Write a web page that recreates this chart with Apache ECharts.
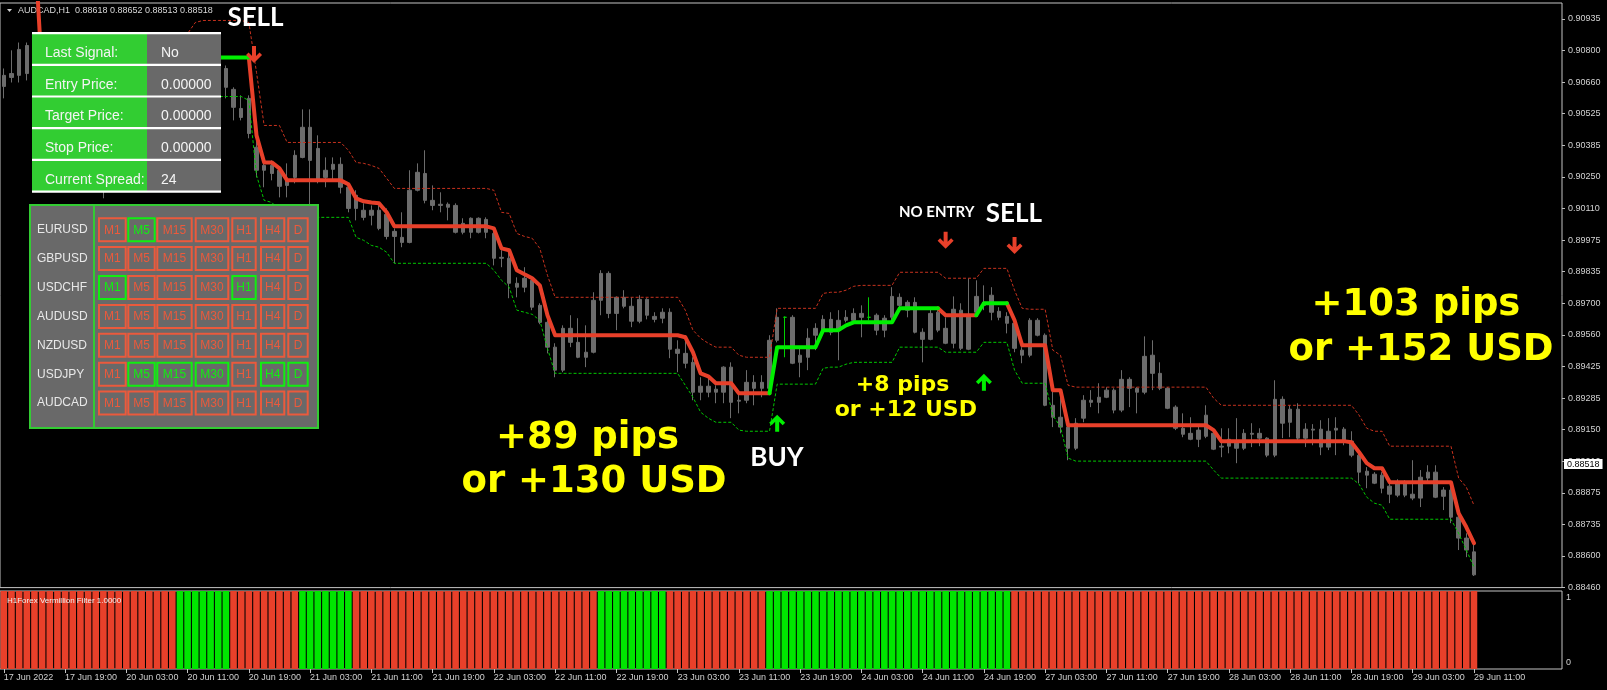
<!DOCTYPE html>
<html>
<head>
<meta charset="utf-8">
<title>AUDCAD,H1</title>
<script src="https://cdn.jsdelivr.net/npm/echarts@6.0.0/dist/echarts.min.js"></script>
<style>
  html, body { margin: 0; padding: 0; background: #000; }
  #chart { width: 1607px; height: 690px; }
</style>
</head>
<body>
<div id="chart"></div>
<script>
// ---- price data, H1 bars from 17 Jun 2022 11:00 (one value per bar) ----
var barOpen = [
  0.90692, 0.90683, 0.90692, 0.90822, 0.90700, 0.90605, 0.90540, 0.90583, 0.90474, 0.90409,
  0.90444, 0.90344, 0.90300, 0.90244, 0.90279, 0.90331, 0.90313, 0.90387, 0.90366, 0.90431,
  0.90409, 0.90496, 0.90540, 0.90605, 0.90692, 0.90670, 0.90722, 0.90705, 0.90748, 0.90722,
  0.90631, 0.90509, 0.90592, 0.90379, 0.90279, 0.90300, 0.90279, 0.90213, 0.90248, 0.90335,
  0.90466, 0.90374, 0.90248, 0.90283, 0.90305, 0.90205, 0.90113, 0.90105, 0.90083, 0.90105,
  0.90087, 0.89991, 0.89987, 0.89965, 0.90192, 0.90265, 0.90148, 0.90126, 0.90131, 0.90126,
  0.90009, 0.90009, 0.90070, 0.90009, 0.90004, 0.89896, 0.89896, 0.89787, 0.89770, 0.89800,
  0.89691, 0.89617, 0.89509, 0.89409, 0.89591, 0.89530, 0.89465, 0.89487, 0.89713, 0.89830,
  0.89656, 0.89726, 0.89687, 0.89622, 0.89717, 0.89643, 0.89635, 0.89661, 0.89500, 0.89482,
  0.89443, 0.89313, 0.89339, 0.89313, 0.89313, 0.89422, 0.89278, 0.89278, 0.89356, 0.89330,
  0.89330, 0.89539, 0.89639, 0.89639, 0.89443, 0.89465, 0.89561, 0.89583, 0.89630, 0.89583,
  0.89626, 0.89626, 0.89656, 0.89639, 0.89648, 0.89583, 0.89639, 0.89726, 0.89704, 0.89704,
  0.89574, 0.89543, 0.89661, 0.89591, 0.89526, 0.89670, 0.89500, 0.89661, 0.89704, 0.89661,
  0.89665, 0.89643, 0.89613, 0.89496, 0.89474, 0.89626, 0.89561, 0.89256, 0.89204, 0.89161,
  0.89069, 0.89200, 0.89278, 0.89269, 0.89291, 0.89322, 0.89235, 0.89369, 0.89330, 0.89313,
  0.89474, 0.89395, 0.89330, 0.89248, 0.89156, 0.89108, 0.89148, 0.89121, 0.89134, 0.89074,
  0.89078, 0.89100, 0.89069, 0.89134, 0.89134, 0.89113, 0.89039, 0.89282, 0.89182, 0.89239,
  0.89113, 0.89152, 0.89152, 0.89074, 0.89148, 0.89152, 0.89100, 0.89039, 0.88969, 0.88956,
  0.88895, 0.88904, 0.88865, 0.88917, 0.88869, 0.88852, 0.88939, 0.88965, 0.88860, 0.88887,
  0.88769, 0.88678, 0.88618
];
var barHigh = [
  0.90722, 0.90801, 0.90835, 0.90835, 0.90757, 0.90635, 0.90600, 0.90592, 0.90505, 0.90470,
  0.90453, 0.90374, 0.90322, 0.90300, 0.90366, 0.90366, 0.90409, 0.90418, 0.90461, 0.90470,
  0.90518, 0.90583, 0.90635, 0.90722, 0.90748, 0.90766, 0.90779, 0.90792, 0.90801, 0.90735,
  0.90640, 0.90605, 0.90605, 0.90422, 0.90322, 0.90322, 0.90292, 0.90309, 0.90366, 0.90544,
  0.90544, 0.90431, 0.90335, 0.90335, 0.90335, 0.90222, 0.90192, 0.90135, 0.90126, 0.90126,
  0.90113, 0.90026, 0.90096, 0.90279, 0.90309, 0.90366, 0.90213, 0.90183, 0.90139, 0.90135,
  0.90070, 0.90074, 0.90074, 0.90074, 0.90018, 0.89931, 0.89931, 0.89813, 0.89857, 0.89813,
  0.89700, 0.89626, 0.89526, 0.89604, 0.89648, 0.89635, 0.89604, 0.89748, 0.89844, 0.89839,
  0.89730, 0.89757, 0.89726, 0.89735, 0.89722, 0.89661, 0.89678, 0.89678, 0.89539, 0.89561,
  0.89465, 0.89378, 0.89378, 0.89343, 0.89426, 0.89443, 0.89313, 0.89409, 0.89387, 0.89387,
  0.89561, 0.89678, 0.89643, 0.89648, 0.89509, 0.89591, 0.89613, 0.89648, 0.89661, 0.89670,
  0.89670, 0.89678, 0.89691, 0.89726, 0.89656, 0.89648, 0.89770, 0.89743, 0.89713, 0.89726,
  0.89591, 0.89678, 0.89670, 0.89639, 0.89730, 0.89700, 0.89809, 0.89800, 0.89778, 0.89770,
  0.89683, 0.89661, 0.89626, 0.89509, 0.89635, 0.89635, 0.89569, 0.89343, 0.89322, 0.89178,
  0.89200, 0.89300, 0.89322, 0.89352, 0.89335, 0.89330, 0.89409, 0.89378, 0.89335, 0.89556,
  0.89539, 0.89443, 0.89335, 0.89256, 0.89221, 0.89204, 0.89169, 0.89256, 0.89152, 0.89156,
  0.89156, 0.89200, 0.89152, 0.89178, 0.89156, 0.89117, 0.89365, 0.89295, 0.89256, 0.89265,
  0.89178, 0.89174, 0.89191, 0.89200, 0.89204, 0.89161, 0.89143, 0.89052, 0.88987, 0.88965,
  0.88965, 0.88917, 0.88934, 0.88930, 0.89017, 0.88974, 0.88995, 0.88995, 0.88900, 0.88900,
  0.88778, 0.88699, 0.88652
];
var barLow = [
  0.90592, 0.90661, 0.90661, 0.90670, 0.90583, 0.90505, 0.90496, 0.90444, 0.90366, 0.90374,
  0.90313, 0.90257, 0.90209, 0.90157, 0.90252, 0.90279, 0.90287, 0.90331, 0.90339, 0.90374,
  0.90387, 0.90461, 0.90518, 0.90583, 0.90635, 0.90644, 0.90670, 0.90679, 0.90687, 0.90592,
  0.90496, 0.90496, 0.90418, 0.90248, 0.90205, 0.90235, 0.90161, 0.90161, 0.90222, 0.90331,
  0.90118, 0.90222, 0.90205, 0.90235, 0.90178, 0.90096, 0.90061, 0.90061, 0.90039, 0.90018,
  0.89978, 0.89874, 0.89944, 0.89961, 0.90187, 0.90135, 0.90105, 0.90096, 0.90061, 0.90004,
  0.90000, 0.89983, 0.90004, 0.89983, 0.89865, 0.89857, 0.89722, 0.89726, 0.89748, 0.89670,
  0.89609, 0.89482, 0.89378, 0.89400, 0.89509, 0.89461, 0.89422, 0.89482, 0.89648, 0.89635,
  0.89583, 0.89678, 0.89596, 0.89613, 0.89630, 0.89617, 0.89613, 0.89461, 0.89400, 0.89417,
  0.89278, 0.89278, 0.89291, 0.89265, 0.89265, 0.89200, 0.89221, 0.89265, 0.89256, 0.89291,
  0.89308, 0.89530, 0.89465, 0.89435, 0.89378, 0.89409, 0.89496, 0.89561, 0.89561, 0.89452,
  0.89617, 0.89613, 0.89552, 0.89626, 0.89561, 0.89552, 0.89626, 0.89678, 0.89639, 0.89569,
  0.89443, 0.89539, 0.89574, 0.89522, 0.89504, 0.89496, 0.89496, 0.89656, 0.89670, 0.89626,
  0.89626, 0.89569, 0.89487, 0.89439, 0.89465, 0.89556, 0.89252, 0.89161, 0.89134, 0.89017,
  0.89061, 0.89182, 0.89248, 0.89221, 0.89287, 0.89221, 0.89226, 0.89248, 0.89221, 0.89304,
  0.89322, 0.89322, 0.89239, 0.89148, 0.89117, 0.89104, 0.89074, 0.89113, 0.89061, 0.89030,
  0.89047, 0.89004, 0.89061, 0.89074, 0.89078, 0.89030, 0.89030, 0.89113, 0.89117, 0.89104,
  0.89074, 0.89082, 0.89039, 0.89061, 0.89039, 0.89082, 0.89030, 0.88917, 0.88895, 0.88913,
  0.88873, 0.88830, 0.88856, 0.88856, 0.88843, 0.88813, 0.88921, 0.88852, 0.88800, 0.88743,
  0.88626, 0.88595, 0.88513
];
var barClose = [
  0.90644, 0.90700, 0.90805, 0.90700, 0.90605, 0.90540, 0.90583, 0.90474, 0.90409, 0.90444,
  0.90344, 0.90300, 0.90244, 0.90279, 0.90331, 0.90313, 0.90387, 0.90366, 0.90431, 0.90409,
  0.90496, 0.90540, 0.90605, 0.90692, 0.90670, 0.90722, 0.90705, 0.90748, 0.90714, 0.90640,
  0.90553, 0.90548, 0.90439, 0.90279, 0.90300, 0.90265, 0.90209, 0.90235, 0.90344, 0.90466,
  0.90322, 0.90235, 0.90279, 0.90305, 0.90205, 0.90113, 0.90170, 0.90074, 0.90105, 0.90026,
  0.89991, 0.90013, 0.89965, 0.90192, 0.90270, 0.90148, 0.90126, 0.90131, 0.90118, 0.90009,
  0.90048, 0.90070, 0.90009, 0.90065, 0.89896, 0.89900, 0.89787, 0.89770, 0.89809, 0.89683,
  0.89617, 0.89509, 0.89409, 0.89591, 0.89530, 0.89465, 0.89487, 0.89713, 0.89830, 0.89656,
  0.89726, 0.89687, 0.89622, 0.89717, 0.89648, 0.89630, 0.89661, 0.89500, 0.89482, 0.89439,
  0.89313, 0.89339, 0.89313, 0.89326, 0.89422, 0.89269, 0.89274, 0.89356, 0.89330, 0.89356,
  0.89539, 0.89639, 0.89639, 0.89439, 0.89474, 0.89548, 0.89591, 0.89630, 0.89574, 0.89626,
  0.89639, 0.89656, 0.89639, 0.89639, 0.89583, 0.89635, 0.89730, 0.89691, 0.89670, 0.89574,
  0.89543, 0.89656, 0.89583, 0.89526, 0.89674, 0.89504, 0.89648, 0.89730, 0.89691, 0.89735,
  0.89639, 0.89613, 0.89504, 0.89474, 0.89626, 0.89561, 0.89256, 0.89204, 0.89161, 0.89069,
  0.89178, 0.89278, 0.89269, 0.89291, 0.89322, 0.89235, 0.89369, 0.89330, 0.89313, 0.89469,
  0.89395, 0.89330, 0.89243, 0.89156, 0.89130, 0.89134, 0.89108, 0.89213, 0.89065, 0.89078,
  0.89108, 0.89069, 0.89134, 0.89130, 0.89113, 0.89039, 0.89282, 0.89178, 0.89239, 0.89113,
  0.89152, 0.89148, 0.89074, 0.89143, 0.89156, 0.89100, 0.89039, 0.88965, 0.88952, 0.88917,
  0.88952, 0.88869, 0.88917, 0.88865, 0.88852, 0.88943, 0.88965, 0.88856, 0.88887, 0.88769,
  0.88678, 0.88626, 0.88518
];

// Vermillion filter line (thick) and its dotted bands
var filterLine = [
  0.91300, 0.91300, 0.91300, 0.91300, 0.91280, 0.90692, 0.90627, 0.90583, 0.90540, 0.90505,
  0.90474, 0.90474, 0.90474, 0.90474, 0.90474, 0.90474, 0.90474, 0.90474, 0.90474, 0.90474,
  0.90474, 0.90474, 0.90474, 0.90670, 0.90757, 0.90770, 0.90770, 0.90770, 0.90770, 0.90770,
  0.90770, 0.90770, 0.90770, 0.90431, 0.90313, 0.90313, 0.90287, 0.90235, 0.90235, 0.90235,
  0.90235, 0.90235, 0.90235, 0.90235, 0.90235, 0.90218, 0.90157, 0.90144, 0.90139, 0.90135,
  0.90096, 0.90035, 0.90035, 0.90035, 0.90035, 0.90035, 0.90035, 0.90035, 0.90035, 0.90035,
  0.90035, 0.90035, 0.90035, 0.90035, 0.90026, 0.89939, 0.89931, 0.89844, 0.89826, 0.89809,
  0.89778, 0.89648, 0.89561, 0.89561, 0.89561, 0.89561, 0.89561, 0.89561, 0.89561, 0.89561,
  0.89561, 0.89561, 0.89561, 0.89561, 0.89561, 0.89561, 0.89561, 0.89561, 0.89561, 0.89552,
  0.89487, 0.89395, 0.89382, 0.89352, 0.89352, 0.89352, 0.89308, 0.89308, 0.89308, 0.89308,
  0.89308, 0.89509, 0.89509, 0.89509, 0.89509, 0.89509, 0.89509, 0.89583, 0.89583, 0.89583,
  0.89604, 0.89617, 0.89617, 0.89617, 0.89617, 0.89617, 0.89617, 0.89678, 0.89678, 0.89678,
  0.89678, 0.89678, 0.89678, 0.89648, 0.89648, 0.89648, 0.89648, 0.89648, 0.89700, 0.89700,
  0.89700, 0.89700, 0.89626, 0.89517, 0.89517, 0.89517, 0.89517, 0.89322, 0.89322, 0.89169,
  0.89169, 0.89169, 0.89169, 0.89169, 0.89169, 0.89169, 0.89169, 0.89169, 0.89169, 0.89169,
  0.89169, 0.89169, 0.89169, 0.89169, 0.89169, 0.89169, 0.89169, 0.89169, 0.89148, 0.89100,
  0.89100, 0.89100, 0.89100, 0.89100, 0.89100, 0.89100, 0.89100, 0.89100, 0.89100, 0.89100,
  0.89100, 0.89100, 0.89100, 0.89100, 0.89100, 0.89100, 0.89095, 0.89052, 0.89004, 0.88982,
  0.88982, 0.88921, 0.88921, 0.88921, 0.88921, 0.88921, 0.88921, 0.88921, 0.88921, 0.88921,
  0.88786, 0.88726, 0.88656
];
var bandUpper = [
  null, null, null, null, null, 0.90853, 0.90787, 0.90744, 0.90700, 0.90666,
  0.90635, 0.90635, 0.90635, 0.90635, 0.90635, 0.90635, 0.90635, 0.90635, 0.90635, 0.90635,
  0.90635, 0.90635, 0.90635, 0.90831, 0.90874, 0.90922, 0.90931, 0.90931, 0.90931, 0.90931,
  0.90931, 0.90931, 0.90922, 0.90705, 0.90474, 0.90474, 0.90474, 0.90400, 0.90400, 0.90400,
  0.90400, 0.90400, 0.90400, 0.90400, 0.90400, 0.90366, 0.90313, 0.90309, 0.90300, 0.90287,
  0.90244, 0.90200, 0.90200, 0.90200, 0.90200, 0.90200, 0.90200, 0.90200, 0.90200, 0.90200,
  0.90200, 0.90200, 0.90200, 0.90200, 0.90192, 0.90096, 0.90091, 0.90004, 0.89991, 0.89983,
  0.89939, 0.89822, 0.89726, 0.89726, 0.89726, 0.89726, 0.89726, 0.89726, 0.89726, 0.89726,
  0.89726, 0.89726, 0.89726, 0.89726, 0.89726, 0.89726, 0.89726, 0.89726, 0.89726, 0.89670,
  0.89583, 0.89548, 0.89526, 0.89509, 0.89509, 0.89509, 0.89474, 0.89465, 0.89465, 0.89465,
  0.89465, 0.89678, 0.89678, 0.89678, 0.89678, 0.89678, 0.89678, 0.89743, 0.89748, 0.89748,
  0.89757, 0.89774, 0.89778, 0.89778, 0.89778, 0.89778, 0.89778, 0.89835, 0.89835, 0.89835,
  0.89835, 0.89835, 0.89835, 0.89809, 0.89809, 0.89809, 0.89809, 0.89809, 0.89852, 0.89852,
  0.89852, 0.89852, 0.89757, 0.89678, 0.89674, 0.89674, 0.89674, 0.89496, 0.89474, 0.89343,
  0.89335, 0.89335, 0.89335, 0.89335, 0.89335, 0.89335, 0.89335, 0.89335, 0.89335, 0.89335,
  0.89335, 0.89335, 0.89335, 0.89335, 0.89335, 0.89335, 0.89335, 0.89335, 0.89287, 0.89256,
  0.89256, 0.89256, 0.89256, 0.89256, 0.89256, 0.89256, 0.89256, 0.89256, 0.89256, 0.89256,
  0.89256, 0.89256, 0.89256, 0.89256, 0.89256, 0.89256, 0.89256, 0.89213, 0.89156, 0.89143,
  0.89143, 0.89078, 0.89078, 0.89078, 0.89078, 0.89078, 0.89078, 0.89078, 0.89078, 0.89078,
  0.88939, 0.88900, 0.88821
];
var bandLower = [
  null, null, null, null, null, 0.90531, 0.90466, 0.90422, 0.90379, 0.90344,
  0.90313, 0.90313, 0.90313, 0.90313, 0.90313, 0.90313, 0.90313, 0.90313, 0.90313, 0.90313,
  0.90313, 0.90313, 0.90313, 0.90509, 0.90596, 0.90605, 0.90600, 0.90600, 0.90600, 0.90600,
  0.90600, 0.90600, 0.90583, 0.90257, 0.90148, 0.90139, 0.90105, 0.90074, 0.90074, 0.90074,
  0.90074, 0.90074, 0.90074, 0.90074, 0.90074, 0.90074, 0.89987, 0.89974, 0.89952, 0.89944,
  0.89922, 0.89874, 0.89874, 0.89874, 0.89874, 0.89874, 0.89874, 0.89874, 0.89874, 0.89874,
  0.89874, 0.89874, 0.89874, 0.89874, 0.89844, 0.89800, 0.89770, 0.89670, 0.89661, 0.89652,
  0.89626, 0.89504, 0.89395, 0.89395, 0.89395, 0.89395, 0.89395, 0.89395, 0.89395, 0.89395,
  0.89395, 0.89395, 0.89395, 0.89395, 0.89395, 0.89395, 0.89395, 0.89395, 0.89395, 0.89343,
  0.89291, 0.89226, 0.89200, 0.89182, 0.89182, 0.89182, 0.89148, 0.89143, 0.89143, 0.89143,
  0.89143, 0.89348, 0.89348, 0.89348, 0.89348, 0.89348, 0.89348, 0.89417, 0.89422, 0.89422,
  0.89435, 0.89443, 0.89443, 0.89443, 0.89443, 0.89443, 0.89443, 0.89509, 0.89509, 0.89509,
  0.89509, 0.89509, 0.89509, 0.89487, 0.89487, 0.89487, 0.89487, 0.89487, 0.89530, 0.89530,
  0.89530, 0.89530, 0.89409, 0.89352, 0.89352, 0.89352, 0.89352, 0.89213, 0.89161, 0.89026,
  0.89013, 0.89013, 0.89013, 0.89013, 0.89013, 0.89013, 0.89013, 0.89013, 0.89013, 0.89013,
  0.89013, 0.89013, 0.89013, 0.89013, 0.89013, 0.89013, 0.89013, 0.89013, 0.88974, 0.88939,
  0.88939, 0.88939, 0.88939, 0.88939, 0.88939, 0.88939, 0.88939, 0.88939, 0.88939, 0.88939,
  0.88939, 0.88939, 0.88939, 0.88939, 0.88939, 0.88939, 0.88939, 0.88913, 0.88856, 0.88830,
  0.88821, 0.88760, 0.88760, 0.88760, 0.88760, 0.88760, 0.88760, 0.88760, 0.88760, 0.88760,
  0.88699, 0.88626, 0.88552
];

// bar ranges (inclusive) where the filter line is green
var lineUpRanges = [[23, 32], [100, 122], [127, 131]];
// bar ranges (inclusive) where the sub-window histogram is green
var histUpRanges = [[23, 29], [39, 45], [78, 86], [100, 131]];
var histValue = 1;               // indicator reads 1.0000 on every bar
var greenDojiBars = [102, 113];

// price axis ticks and their labels as printed by the terminal
var priceTicks = [0.884625, 0.886, 0.887375, 0.88875, 0.890125, 0.8915, 0.892875, 0.89425, 0.895625,
                  0.897, 0.898375, 0.89975, 0.901125, 0.9025, 0.903875, 0.90525, 0.906625, 0.908, 0.909375];
var priceTickLabels = ['0.88460', '0.88600', '0.88735', '0.88875', '0.89010', '0.89150', '0.89285', '0.89425',
                       '0.89560', '0.89700', '0.89835', '0.89975', '0.90110', '0.90250', '0.90385', '0.90525',
                       '0.90660', '0.90800', '0.90935'];
var lastPrice = 0.88518;

// signal arrows drawn on the chart
var signalArrows = [
  { bar: 33, price: 0.90783, dir: 'down' },
  { bar: 123, price: 0.89974, dir: 'down' },
  { bar: 132, price: 0.89952, dir: 'down' },
  { bar: 101, price: 0.89178, dir: 'up' },
  { bar: 128, price: 0.89356, dir: 'up' }
];

// info panel + multi-symbol table
var panelRows = [
  ['Last Signal:', 'No'], ['Entry Price:', '0.00000'], ['Target Price:', '0.00000'],
  ['Stop Price:', '0.00000'], ['Current Spread:', '24']
];
var symbols = ['EURUSD', 'GBPUSD', 'USDCHF', 'AUDUSD', 'NZDUSD', 'USDJPY', 'AUDCAD'];
var timeframes = ['M1', 'M5', 'M15', 'M30', 'H1', 'H4', 'D'];
var symbolSignals = [
  [0, 1, 0, 0, 0, 0, 0],
  [0, 0, 0, 0, 0, 0, 0],
  [1, 0, 0, 0, 1, 0, 0],
  [0, 0, 0, 0, 0, 0, 0],
  [0, 0, 0, 0, 0, 0, 0],
  [0, 1, 1, 1, 0, 1, 1],
  [0, 0, 0, 0, 0, 0, 0]
];

// ---- build ----
var RED = '#e8402a', GREEN = '#00f000', CANDLE = '#6c6c6c';
var FONT = 'Liberation Sans';
var MONTHS = ['Jan', 'Feb', 'Mar', 'Apr', 'May', 'Jun', 'Jul', 'Aug', 'Sep', 'Oct', 'Nov', 'Dec'];
function pad2(n) { return n < 10 ? '0' + n : '' + n; }

var nBars = barOpen.length;
var barTimes = [];
var firstLabel = '';
var t = Date.UTC(2022, 5, 17, 11);
while (barTimes.length < nBars) {
  var d = new Date(t);
  var wd = d.getUTCDay();
  if (wd !== 0 && wd !== 6) {
    if (!barTimes.length) firstLabel = d.getUTCDate() + ' ' + MONTHS[d.getUTCMonth()] + ' ' + d.getUTCFullYear();
    barTimes.push(d.getUTCDate() + ' ' + MONTHS[d.getUTCMonth()] + ' ' + pad2(d.getUTCHours()) + ':00');
  }
  t += 3600000;
}
// empty space to the right of the last bar (chart shift)
var categories = barTimes.slice();
for (var k = 1; k <= 11; k++) categories.push('shift' + k);

function inRange(i, ranges, strict) {
  for (var r = 0; r < ranges.length; r++) {
    var a = ranges[r][0], b = ranges[r][1];
    if (strict ? (i > a && i < b) : (i >= a && i <= b)) return true;
  }
  return false;
}

var candleData = [];
var lineRed = [], lineGreen = [], histData = [];
for (var i = 0; i < nBars; i++) {
  var item = { value: [barOpen[i], barClose[i], barLow[i], barHigh[i]] };
  if (greenDojiBars.indexOf(i) >= 0) {
    item.itemStyle = { color: '#00d000', color0: '#00d000', borderColor: '#00d000', borderColor0: '#00d000', borderColorDoji: '#00d000' };
  }
  candleData.push(item);
  lineGreen.push(inRange(i, lineUpRanges, false) ? filterLine[i] : null);
  lineRed.push(inRange(i, lineUpRanges, true) ? null : filterLine[i]);
  histData.push({ value: histValue, itemStyle: { color: inRange(i, histUpRanges, false) ? '#00e600' : RED } });
}

var ARROW_DOWN = 'path://M6.5,0 L10.5,0 L10.5,10 L14,6.5 L16.5,9 L8.5,17 L0.5,9 L3,6.5 L6.5,10 Z';
var ARROW_UP = 'path://M6.5,17 L10.5,17 L10.5,7 L14,10.5 L16.5,8 L8.5,0 L0.5,8 L3,10.5 L6.5,7 Z';

var labelInterval = function (index) { return index % 8 === 0 && index < nBars; };

// ---- overlay objects (panel, table, texts) ----
var gfx = [];
gfx.push({ type: 'polygon', z: 1, shape: { points: [[7, 9], [12, 9], [9.5, 12]] }, style: { fill: '#d0d0d0' } });
gfx.push({ type: 'text', z: 1, style: { x: 18, y: 11, text: 'AUDCAD,H1  0.88618 0.88652 0.88513 0.88518',
  fill: '#d8d8d8', font: '9px "Liberation Sans"', textAlign: 'left', align: 'left', textVerticalAlign: 'middle', verticalAlign: 'middle' } });

var pX = 32, pY = 33, pW = 189, pSplit = 147, rowH = 31.7;
panelRows.forEach(function (row, r) {
  var y0 = pY + r * rowH;
  gfx.push({ type: 'rect', z: 50, shape: { x: pX, y: y0, width: pSplit - pX, height: rowH }, style: { fill: '#32cd32' } });
  gfx.push({ type: 'rect', z: 50, shape: { x: pSplit, y: y0, width: pX + pW - pSplit, height: rowH }, style: { fill: '#696969' } });
  gfx.push({ type: 'text', z: 52, style: { x: 45, y: y0 + 20, text: row[0], fill: '#f4f4f4', font: '14px "Liberation Sans"',
    textAlign: 'left', align: 'left', textVerticalAlign: 'middle', verticalAlign: 'middle' } });
  gfx.push({ type: 'text', z: 52, style: { x: 161, y: y0 + 20, text: row[1], fill: '#f4f4f4', font: '14px "Liberation Sans"',
    textAlign: 'left', align: 'left', textVerticalAlign: 'middle', verticalAlign: 'middle' } });
});
for (var s = 0; s <= panelRows.length; s++) {
  gfx.push({ type: 'rect', z: 51, shape: { x: pX, y: pY + s * rowH - 1, width: pW, height: 2.2 }, style: { fill: '#ffffff' } });
}

var tX = 30, tY = 205, tW = 288, tH = 223, rowStep = 28.9, row0 = 229.7;
gfx.push({ type: 'rect', z: 50, shape: { x: tX, y: tY, width: tW, height: tH }, style: { fill: '#696969', stroke: '#33cc33', lineWidth: 2 } });
gfx.push({ type: 'line', z: 51, shape: { x1: 94, y1: tY, x2: 94, y2: tY + tH }, style: { stroke: '#33cc33', lineWidth: 2 } });
var cellX = [99, 128.3, 157.3, 195.7, 232.3, 261, 288.3];
var cellW = [26.7, 26.4, 34.4, 32.6, 23.4, 23.3, 19.4];
symbols.forEach(function (sym, r) {
  var cy = row0 + r * rowStep;
  gfx.push({ type: 'text', z: 52, style: { x: 37, y: cy, text: sym, fill: '#e8e8e8', font: '12px "Liberation Sans"',
    textAlign: 'left', align: 'left', textVerticalAlign: 'middle', verticalAlign: 'middle' } });
  timeframes.forEach(function (tf, c) {
    var col = symbolSignals[r][c] ? '#11ee11' : '#eb5a3c';
    gfx.push({ type: 'rect', z: 52, shape: { x: cellX[c], y: cy - 11.5, width: cellW[c], height: 23 },
      style: { fill: 'none', stroke: col, lineWidth: 2 } });
    gfx.push({ type: 'text', z: 53, style: { x: cellX[c] + cellW[c] / 2, y: cy + 0.5, text: tf, fill: col, font: '12px "Liberation Sans"',
      textAlign: 'center', align: 'center', textVerticalAlign: 'middle', verticalAlign: 'middle' } });
  });
});

function addText(txt, x, y, font, color) {
  gfx.push({ type: 'text', z: 60, style: { x: x, y: y, text: txt, fill: color, font: font,
    textAlign: 'center', align: 'center', textVerticalAlign: 'middle', verticalAlign: 'middle' } });
}
addText('SELL', 255.5, 18, 'bold 26px Lato', '#ffffff');
addText('NO ENTRY', 936.7, 212, 'bold 15px Lato', '#ffffff');
addText('SELL', 1013.8, 214, 'bold 26px Lato', '#ffffff');
addText('BUY', 777, 458, 'bold 26px Lato', '#ffffff');
addText('+89 pips', 587.5, 438, 'bold 37px "DejaVu Sans"', '#ffff00');
addText('or +130 USD', 594, 482, 'bold 37px "DejaVu Sans"', '#ffff00');
addText('+8 pips', 902.5, 385, 'bold 22px "DejaVu Sans"', '#ffff00');
addText('or +12 USD', 905.8, 410, 'bold 22px "DejaVu Sans"', '#ffff00');
addText('+103 pips', 1416, 305, 'bold 37px "DejaVu Sans"', '#ffff00');
addText('or +152 USD', 1421, 350, 'bold 37px "DejaVu Sans"', '#ffff00');
gfx.push({ type: 'text', z: 60, style: { x: 7, y: 601, text: 'H1Forex Vermillion Filter 1.0000', fill: '#f0f0f0',
  font: '8px "Liberation Sans"', textAlign: 'left', align: 'left', textVerticalAlign: 'middle', verticalAlign: 'middle' } });

var chart = echarts.init(document.getElementById('chart'));
chart.setOption({
  backgroundColor: '#000000',
  animation: false,
  textStyle: { fontFamily: FONT },
  grid: [
    { left: 0, right: 45, top: 3, height: 584.6, show: true, borderColor: '#c4c4c4', borderWidth: 1 },
    { left: 0, right: 45, top: 591, height: 78, show: true, borderColor: '#c4c4c4', borderWidth: 1 }
  ],
  xAxis: [
    { type: 'category', gridIndex: 0, data: categories, boundaryGap: true,
      axisLine: { show: false }, axisTick: { show: false }, axisLabel: { show: false }, splitLine: { show: false } },
    { type: 'category', gridIndex: 1, data: categories, boundaryGap: true,
      axisLine: { show: false },
      axisTick: { show: true, interval: labelInterval, alignWithLabel: true, length: 4, lineStyle: { color: '#c4c4c4' } },
      axisLabel: { interval: labelInterval, align: 'left', margin: 4, color: '#cfcfcf', fontSize: 9, fontFamily: FONT,
        formatter: function (v, idx) { return idx === 0 ? firstLabel : v; } },
      splitLine: { show: false } }
  ],
  yAxis: [
    { type: 'value', gridIndex: 0, position: 'right', min: 0.884625, max: 0.91007, interval: 0.001375,
      splitLine: { show: false }, axisLine: { show: false },
      axisTick: { show: true, length: 3, lineStyle: { color: '#bdbdbd' }, customValues: priceTicks },
      axisLabel: { customValues: priceTicks, margin: 6, color: '#d2d2d2', fontSize: 9, fontFamily: FONT,
        showMinLabel: true, showMaxLabel: true,
        formatter: function (v) {
          for (var j = 0; j < priceTicks.length; j++) if (Math.abs(priceTicks[j] - v) < 1e-7) return priceTickLabels[j];
          return '';
        } } },
    { type: 'value', gridIndex: 1, position: 'right', min: 0, max: 1, interval: 1,
      splitLine: { show: false }, axisLine: { show: false }, axisTick: { show: false },
      axisLabel: { margin: 4, showMinLabel: true, showMaxLabel: true,
        formatter: function (v) { return v >= 1 ? '{t|1}' : '{b|0}'; },
        rich: {
          t: { color: '#d2d2d2', fontSize: 9, fontFamily: FONT, padding: [13, 0, 0, 0] },
          b: { color: '#d2d2d2', fontSize: 9, fontFamily: FONT, padding: [0, 0, 12, 0] }
        } } }
  ],
  series: [
    { name: 'AUDCAD', type: 'candlestick', xAxisIndex: 0, yAxisIndex: 0, z: 2, barWidth: 4,
      data: candleData,
      itemStyle: { color: CANDLE, color0: CANDLE, borderColor: CANDLE, borderColor0: CANDLE, borderColorDoji: CANDLE, borderWidth: 1 },
      markPoint: {
        silent: true, label: { show: false },
        data: signalArrows.map(function (a) {
          return { coord: [a.bar, a.price], symbol: a.dir === 'down' ? ARROW_DOWN : ARROW_UP, symbolSize: [16, 17],
            symbolOffset: a.bar === 33 ? [-2.5, 0] : [0, 0],
            itemStyle: { color: a.dir === 'down' ? RED : GREEN } };
        })
      },
      markLine: {
        silent: true, symbol: ['none', 'none'],
        lineStyle: { color: 'rgba(0,0,0,0)', width: 0 },
        label: { show: true, position: 'end', distance: 2, formatter: lastPrice.toFixed(5),
          backgroundColor: '#ffffff', color: '#000000', fontSize: 9, fontFamily: FONT, padding: [1, 3, 0, 3] },
        data: [{ yAxis: lastPrice }]
      } },
    { name: 'Upper band', type: 'line', xAxisIndex: 0, yAxisIndex: 0, z: 3, data: bandUpper, symbol: 'none',
      lineStyle: { color: '#c8321e', width: 1, type: [3, 2] } },
    { name: 'Lower band', type: 'line', xAxisIndex: 0, yAxisIndex: 0, z: 3, data: bandLower, symbol: 'none',
      lineStyle: { color: '#00c800', width: 1, type: [3, 2] } },
    { name: 'Filter down', type: 'line', xAxisIndex: 0, yAxisIndex: 0, z: 4, data: lineRed, symbol: 'none',
      lineStyle: { color: RED, width: 4, join: 'round', cap: 'round' } },
    { name: 'Filter up', type: 'line', xAxisIndex: 0, yAxisIndex: 0, z: 4, data: lineGreen, symbol: 'none',
      lineStyle: { color: GREEN, width: 4, join: 'round', cap: 'round' } },
    { name: 'H1Forex Vermillion Filter', type: 'bar', xAxisIndex: 1, yAxisIndex: 1, data: histData,
      barWidth: 6.6, silent: true }
  ],
  graphic: { elements: gfx }
});
</script>
</body>
</html>
